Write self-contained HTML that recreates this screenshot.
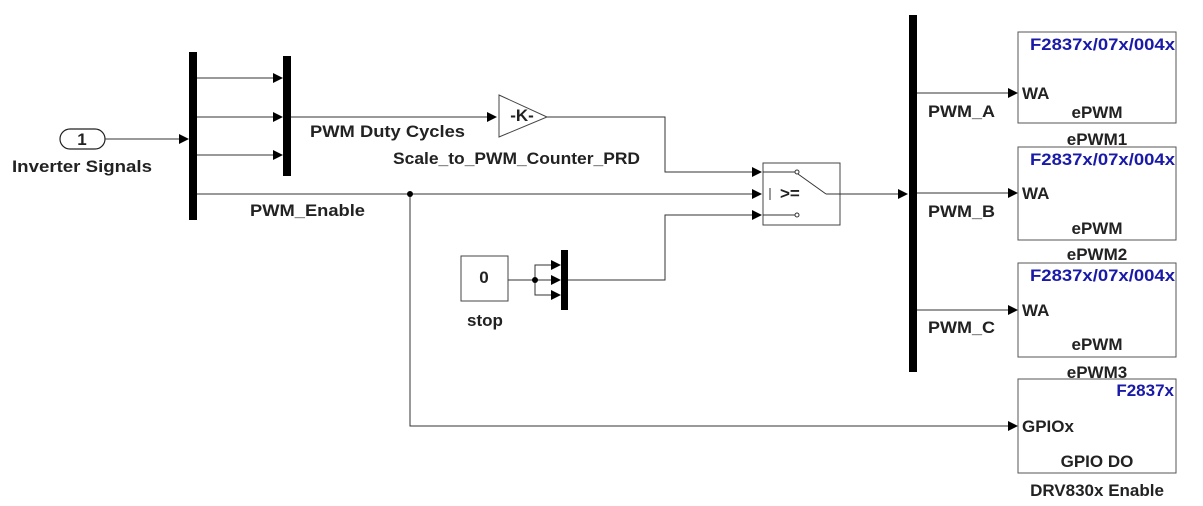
<!DOCTYPE html>
<html><head><meta charset="utf-8"><style>
html,body{margin:0;padding:0;background:#fff}
svg{display:block}
text{font-family:"Liberation Sans",Arial,sans-serif;font-weight:bold;font-size:17px;fill:#222}
.b{fill:#1a1aa8}
</style></head><body>
<svg width="1203" height="506" viewBox="0 0 1203 506" xmlns="http://www.w3.org/2000/svg">
<defs><marker id="a" markerWidth="10" markerHeight="10" refX="9" refY="5" orient="auto" markerUnits="userSpaceOnUse"><path d="M0,0 L10,5 L0,10z" fill="#000"/></marker></defs>
<g stroke="#333" stroke-width="1" fill="none">
<rect x="60" y="129" width="45" height="20" rx="10" fill="#fff" stroke="#222" stroke-width="1.2"/>
<line x1="105" y1="139" x2="188" y2="139" marker-end="url(#a)"/>
<line x1="197" y1="78" x2="282" y2="78" marker-end="url(#a)"/>
<line x1="197" y1="117" x2="282" y2="117" marker-end="url(#a)"/>
<line x1="197" y1="155" x2="282" y2="155" marker-end="url(#a)"/>
<line x1="291" y1="117" x2="496" y2="117" marker-end="url(#a)"/>
<polygon points="499,95 547,117 499,137" fill="#fff" stroke="#444"/>
<polyline points="547,117 665,117 665,172 761,172" marker-end="url(#a)"/>
<line x1="197" y1="194" x2="761" y2="194" marker-end="url(#a)"/>
<polyline points="410,194 410,426 1017,426" marker-end="url(#a)"/>
<rect x="461" y="256" width="47" height="45" fill="#fff" stroke="#444"/>
<line x1="508" y1="280" x2="560" y2="280" marker-end="url(#a)"/>
<polyline points="535,280 535,265 560,265" marker-end="url(#a)"/>
<polyline points="535,280 535,295 560,295" marker-end="url(#a)"/>
<polyline points="568,280 665,280 665,215 761,215" marker-end="url(#a)"/>
<rect x="763" y="163" width="77" height="62" fill="#fff" stroke="#444"/>
<line x1="763" y1="172" x2="795" y2="172"/><circle cx="797" cy="172" r="2"/>
<line x1="763" y1="215" x2="795" y2="215"/><circle cx="797" cy="215" r="2"/>
<line x1="770" y1="188" x2="770" y2="200"/>
<line x1="798" y1="174" x2="826" y2="194"/>
<line x1="826" y1="194" x2="840" y2="194"/>
<line x1="840" y1="194" x2="907" y2="194" marker-end="url(#a)"/>
<line x1="917" y1="93" x2="1017" y2="93" marker-end="url(#a)"/>
<line x1="917" y1="193" x2="1017" y2="193" marker-end="url(#a)"/>
<line x1="917" y1="310" x2="1017" y2="310" marker-end="url(#a)"/>
<rect x="1018" y="32" width="158" height="91" fill="#fff" stroke="#555"/>
<rect x="1018" y="147" width="158" height="93" fill="#fff" stroke="#555"/>
<rect x="1018" y="263" width="158" height="94" fill="#fff" stroke="#555"/>
<rect x="1018" y="379" width="158" height="94" fill="#fff" stroke="#555"/>
</g>
<rect x="189" y="52" width="8" height="168" fill="#000"/>
<rect x="283" y="56" width="8" height="120" fill="#000"/>
<rect x="561" y="250" width="7" height="60" fill="#000"/>
<rect x="909" y="15" width="8" height="357" fill="#000"/>
<circle cx="410" cy="194" r="3" fill="#000"/>
<circle cx="535" cy="280" r="3" fill="#000"/>
<text x="82" y="145" text-anchor="middle" font-size="15">1</text>
<text x="12" y="172" textLength="140" lengthAdjust="spacingAndGlyphs">Inverter Signals</text>
<text x="310" y="137" textLength="155" lengthAdjust="spacingAndGlyphs">PWM Duty Cycles</text>
<text x="393" y="164" textLength="247" lengthAdjust="spacingAndGlyphs">Scale_to_PWM_Counter_PRD</text>
<text x="250" y="216" textLength="115" lengthAdjust="spacingAndGlyphs">PWM_Enable</text>
<text x="522" y="121" text-anchor="middle" font-weight="normal" font-size="12">-K-</text>
<text x="484" y="283" text-anchor="middle" font-weight="normal" font-size="14">0</text>
<text x="485" y="326" text-anchor="middle">stop</text>
<text x="780" y="199" font-size="14">&gt;=</text>
<text x="928" y="117" textLength="67" lengthAdjust="spacingAndGlyphs">PWM_A</text>
<text x="928" y="217" textLength="67" lengthAdjust="spacingAndGlyphs">PWM_B</text>
<text x="928" y="333" textLength="67" lengthAdjust="spacingAndGlyphs">PWM_C</text>
<text class="b" x="1030" y="50" textLength="145" lengthAdjust="spacingAndGlyphs">F2837x/07x/004x</text>
<text x="1022" y="99">WA</text>
<text x="1097" y="118" text-anchor="middle">ePWM</text>
<text x="1097" y="145" text-anchor="middle">ePWM1</text>
<text class="b" x="1030" y="165" textLength="145" lengthAdjust="spacingAndGlyphs">F2837x/07x/004x</text>
<text x="1022" y="199">WA</text>
<text x="1097" y="234" text-anchor="middle">ePWM</text>
<text x="1097" y="260" text-anchor="middle">ePWM2</text>
<text class="b" x="1030" y="281" textLength="145" lengthAdjust="spacingAndGlyphs">F2837x/07x/004x</text>
<text x="1022" y="316">WA</text>
<text x="1097" y="350" text-anchor="middle">ePWM</text>
<text x="1097" y="378" text-anchor="middle">ePWM3</text>
<text class="b" x="1174" y="396" text-anchor="end">F2837x</text>
<text x="1022" y="432">GPIOx</text>
<text x="1097" y="467" text-anchor="middle">GPIO DO</text>
<text x="1097" y="496" text-anchor="middle">DRV830x Enable</text>
</svg>
</body></html>
